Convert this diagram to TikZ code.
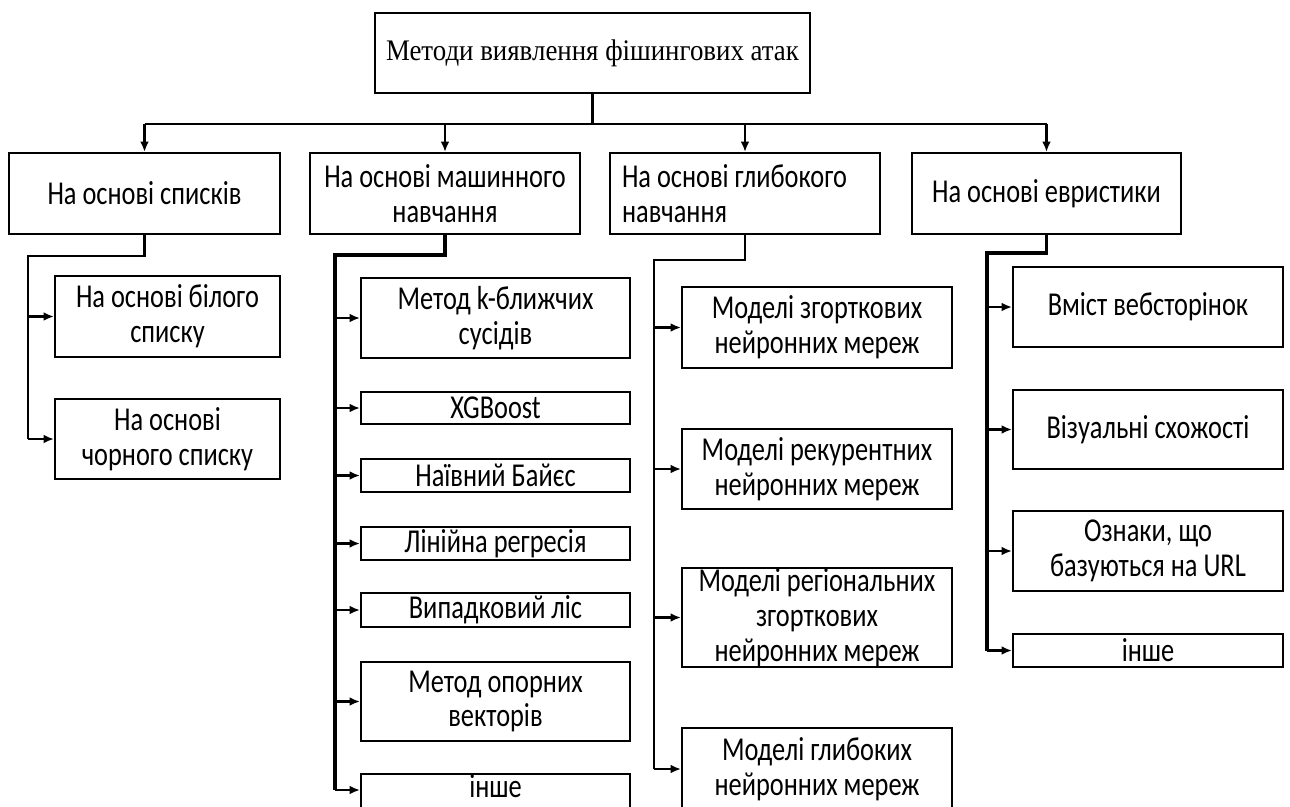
\documentclass[tikz,border=0pt]{standalone}
\usepackage{fontspec}
\setmainfont{Carlito}[FakeStretch=0.79]
\newfontfamily\rootfont{Liberation Serif}[FakeStretch=0.9]
\usetikzlibrary{arrows.meta}

\tikzset{
    box/.style={draw, line width=1.1pt, align=center, inner xsep=0.2cm, inner ysep=0pt,
        font=\fontsize{19}{19.8}\selectfont},
    link/.style={line width=1.3pt},
    boldlink/.style={line width=2pt},
    >={Latex[length=6pt,width=5pt]}
}

\begin{document}
\begin{tikzpicture}[x=0.02cm, y=-0.02cm]
    \useasboundingbox (0,0) rectangle (1290,806);

    \node[box, font={\rootfont\fontsize{17}{20}\selectfont}, minimum width=8.7cm, minimum height=1.6cm] (root) at (592.5,53) {Методи виявлення фішингових атак};

    \node[box, minimum width=5.42cm, minimum height=1.62cm] (lists) at (144.5,193.5) {На основі списків};
    \node[box, minimum width=5.4cm, minimum height=1.62cm] (ml) at (445,193.5) {На основі машинного\\навчання};
    \node[box, align=flush left, text width=4.92cm, inner xsep=0.24cm, minimum height=1.62cm] (dl) at (745,193.5) {На основі глибокого\\навчання};
    \node[box, minimum width=5.38cm, minimum height=1.62cm] (heur) at (1046.5,193.5) {На основі евристики};

    \node[box, minimum width=4.5cm, minimum height=1.62cm] (white) at (167.5,316.5) {На основі білого\\списку};
    \node[box, minimum width=4.5cm, minimum height=1.6cm] (black) at (167.5,439) {На основі\\чорного списку};

    \node[box, minimum width=5.38cm, minimum height=1.6cm] (knn) at (495.5,318) {Метод k-ближчих\\сусідів};
    \node[box, minimum width=5.38cm, minimum height=0.64cm] (xgb) at (495.5,408) {XGBoost};
    \node[box, minimum width=5.38cm, minimum height=0.66cm] (nb) at (495.5,475.5) {Наївний Байєс};
    \node[box, minimum width=5.38cm, minimum height=0.66cm] (lr) at (495.5,543.5) {Лінійна регресія};
    \node[box, minimum width=5.38cm, minimum height=0.68cm] (rf) at (495.5,610) {Випадковий ліс};
    \node[box, minimum width=5.38cm, minimum height=1.58cm] (svm) at (495.5,701.5) {Метод опорних\\векторів};
    \node[box, minimum width=5.38cm, minimum height=0.7cm, text depth=7pt] (mlother) at (495.5,792) {інше};

    \node[box, minimum width=5.4cm, minimum height=1.62cm] (cnn) at (817,327.5) {Моделі згорткових\\нейронних мереж};
    \node[box, minimum width=5.4cm, minimum height=1.6cm] (rnn) at (817,469) {Моделі рекурентних\\нейронних мереж};
    \node[box, minimum width=5.4cm, minimum height=1.98cm] (rcnn) at (817,617.5) {Моделі регіональних\\згорткових\\нейронних мереж};
    \node[box, minimum width=5.4cm, minimum height=1.64cm] (dnn) at (817,769) {Моделі глибоких\\нейронних мереж};

    \node[box, minimum width=5.4cm, minimum height=1.6cm] (web) at (1148,307) {Вміст вебсторінок};
    \node[box, minimum width=5.4cm, minimum height=1.58cm] (vis) at (1148,429.5) {Візуальні схожості};
    \node[box, minimum width=5.4cm, minimum height=1.6cm] (url) at (1148,551) {Ознаки, що\\базуються на URL};
    \node[box, minimum width=5.4cm, minimum height=0.66cm] (hother) at (1148,650.5) {інше};

    \coordinate (bar) at (592.5,124);
    \draw[link] (root.south) -- (bar);
    \draw[link] (lists.north |- bar) -- (heur.north |- bar);
    \foreach \n in {lists,ml,dl,heur}
        \draw[link,->] (\n.north |- bar) -- (\n.north);

    \coordinate (lc) at (28,256);
    \draw[link] (lists.south) |- (lc) -- (lc |- black);
    \foreach \n in {white,black}
        \draw[link,->] (lc |- \n) -- (\n.west);

    \coordinate (mc) at (335,255);
    \coordinate (mlend) at (335,790);
    \draw[boldlink] (ml.south) |- (mc) -- (mlend);
    \foreach \n in {knn,xgb,nb,lr,rf,svm}
        \draw[link,->] (mc |- \n) -- (\n.west);
    \draw[link,->] (mlend) -- (mlend -| mlother.west);

    \coordinate (dc) at (654,260);
    \draw[link] (dl.south) |- (dc) -- (dc |- dnn);
    \foreach \n in {cnn,rnn,rcnn,dnn}
        \draw[link,->] (dc |- \n) -- (\n.west);

    \coordinate (hc) at (987,253);
    \draw[boldlink] (heur.south) |- (hc) -- (hc |- hother);
    \foreach \n in {web,vis,url,hother}
        \draw[link,->] (hc |- \n) -- (\n.west);
\end{tikzpicture}
\end{document}
